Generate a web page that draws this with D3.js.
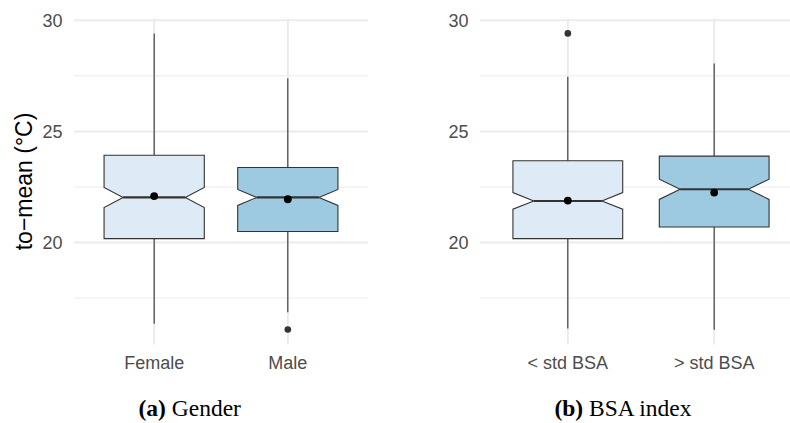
<!DOCTYPE html>
<html>
<head>
<meta charset="utf-8">
<script src="https://cdn.jsdelivr.net/npm/d3@7"></script>
<style>
  html, body { margin: 0; padding: 0; background: #fff; }
  svg { display: block; }
</style>
</head>
<body>
<svg id="chart" width="790" height="423"></svg>
<script>
// ---------- data ----------
const genderCategories = ["Female", "Male"];
const bsaCategories = ["< std BSA", "> std BSA"];

// [lowerWhisker, q1, median, q3, upperWhisker]
const genderFive = [
  [16.35, 20.18, 22.03, 23.93, 29.41],
  [16.87, 20.50, 22.03, 23.38, 27.39]
];
const bsaFive = [
  [16.13, 20.18, 21.87, 23.68, 27.46],
  [16.08, 20.70, 22.40, 23.89, 28.06]
];
// [notchLow, notchHigh]
const genderNotch = [[21.58, 22.48], [21.67, 22.39]];
const bsaNotch = [[21.50, 22.25], [21.94, 22.85]];
const genderMean = [22.09, 21.95];
const bsaMean = [21.89, 22.25];
const genderOutliers = [[], [16.09]];
const bsaOutliers = [[29.41], []];

const yTicks = [20, 25, 30];
const yMinorTicks = [17.5, 22.5, 27.5];
const yDomain = [15.42, 30.08];
const fills = ["#DEEBF7", "#9ECAE1"];
const yTitle = "to\u2212mean (\u00B0C)";
const captions = [["(a)", " Gender"], ["(b)", " BSA index"]];

// ---------- drawing ----------
const svg = d3.select("#chart");
const panelTop = 18.5, panelBottom = 344.4;
const y = d3.scaleLinear().domain(yDomain).range([panelBottom, panelTop]);

function panel(cfg) {
  const g = svg.append("g");
  const x = d3.scalePoint().domain(cfg.categories).range(cfg.xRange).padding(0.6);
  const step = x.step();
  const bw = step * 0.75;
  const nw = bw * 0.62;
  const gridRight = Math.min(cfg.xRange[1], 790);

  // minor gridlines
  g.selectAll(".minor").data(yMinorTicks).join("line")
    .attr("x1", cfg.xRange[0]).attr("x2", gridRight)
    .attr("y1", d => y(d)).attr("y2", d => y(d))
    .attr("stroke", "#EBEBEB").attr("stroke-width", 1);
  // major gridlines
  g.selectAll(".major").data(yTicks).join("line")
    .attr("x1", cfg.xRange[0]).attr("x2", gridRight)
    .attr("y1", d => y(d)).attr("y2", d => y(d))
    .attr("stroke", "#EBEBEB").attr("stroke-width", 2);
  g.selectAll(".vmajor").data(cfg.categories).join("line")
    .attr("x1", d => x(d)).attr("x2", d => x(d))
    .attr("y1", panelTop).attr("y2", panelBottom)
    .attr("stroke", "#EBEBEB").attr("stroke-width", 2);

  // y tick labels
  g.selectAll(".ytl").data(yTicks).join("text")
    .attr("x", cfg.xRange[0] - 11.5).attr("y", d => y(d))
    .attr("dy", "0.36em").attr("text-anchor", "end")
    .attr("font-family", "Liberation Sans, Arial, sans-serif")
    .attr("font-size", 18).attr("fill", "#4D4D4D")
    .text(d => d);
  // x tick labels
  g.selectAll(".xtl").data(cfg.categories).join("text")
    .attr("x", d => x(d)).attr("y", 369.3)
    .attr("text-anchor", "middle")
    .attr("font-family", "Liberation Sans, Arial, sans-serif")
    .attr("font-size", 18).attr("fill", "#4D4D4D")
    .text(d => d);

  cfg.categories.forEach((c, i) => {
    const [lw, q1, med, q3, uw] = cfg.five[i];
    const [nl, nh] = cfg.notch[i];
    const cx = x(c);
    // whiskers
    g.append("line").attr("x1", cx).attr("x2", cx).attr("y1", y(q3)).attr("y2", y(uw))
      .attr("stroke", "#333333").attr("stroke-width", 1.1);
    g.append("line").attr("x1", cx).attr("x2", cx).attr("y1", y(q1)).attr("y2", y(lw))
      .attr("stroke", "#333333").attr("stroke-width", 1.1);
    // notched box
    const pts = [
      [cx - bw / 2, y(q3)], [cx + bw / 2, y(q3)], [cx + bw / 2, y(nh)],
      [cx + nw / 2, y(med)], [cx + bw / 2, y(nl)], [cx + bw / 2, y(q1)],
      [cx - bw / 2, y(q1)], [cx - bw / 2, y(nl)], [cx - nw / 2, y(med)],
      [cx - bw / 2, y(nh)]
    ];
    g.append("path").attr("d", d3.line()(pts) + "Z")
      .attr("fill", fills[i]).attr("stroke", "#333333").attr("stroke-width", 1.1)
      .attr("stroke-linejoin", "miter");
    // median
    g.append("line").attr("x1", cx - nw / 2).attr("x2", cx + nw / 2)
      .attr("y1", y(med)).attr("y2", y(med))
      .attr("stroke", "#333333").attr("stroke-width", 2.2);
    // outliers
    g.selectAll(null).data(cfg.outliers[i]).join("circle")
      .attr("cx", cx).attr("cy", d => y(d)).attr("r", 3.3).attr("fill", "#333333");
    // mean
    g.append("circle").attr("cx", cx).attr("cy", y(cfg.mean[i])).attr("r", 3.9).attr("fill", "#000");
  });

  // caption
  const cap = svg.append("text")
    .attr("x", cfg.captionX).attr("y", 416)
    .attr("text-anchor", "middle")
    .attr("font-family", "Liberation Serif, Times New Roman, serif")
    .attr("font-size", 23.5).attr("fill", "#000");
  cap.append("tspan").attr("font-weight", "bold").text(cfg.caption[0]);
  cap.append("tspan").text(cfg.caption[1]);
}

panel({
  categories: genderCategories, five: genderFive, notch: genderNotch,
  mean: genderMean, outliers: genderOutliers, xRange: [74, 368],
  caption: captions[0], captionX: 189.7
});
panel({
  categories: bsaCategories, five: bsaFive, notch: bsaNotch,
  mean: bsaMean, outliers: bsaOutliers, xRange: [480, 802],
  caption: captions[1], captionX: 623
});

// y axis title
svg.append("text")
  .attr("transform", `translate(31.5,${(panelTop + panelBottom) / 2}) rotate(-90)`)
  .attr("text-anchor", "middle")
  .attr("font-family", "Liberation Sans, Arial, sans-serif")
  .attr("font-size", 23).attr("fill", "#000")
  .text(yTitle);
</script>
</body>
</html>
